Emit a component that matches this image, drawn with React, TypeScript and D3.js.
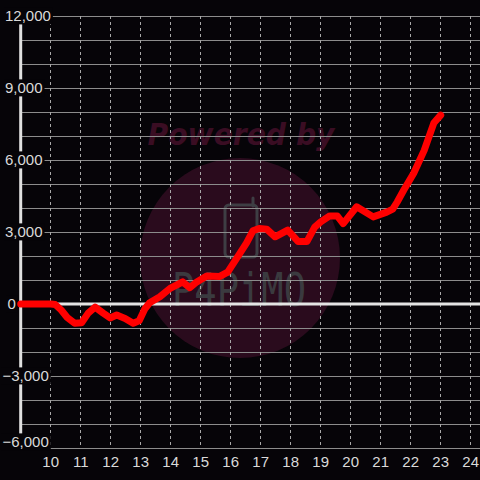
import React, { useEffect, useRef } from "react";
import * as d3 from "d3";

const xValues = [9.0, 9.5, 10.0, 10.15, 10.35, 10.55, 10.8, 11.03, 11.25, 11.48, 11.75, 11.98, 12.2, 12.48, 12.75, 12.95, 13.14, 13.3, 13.64, 13.98, 14.4, 14.64, 14.87, 15.2, 15.64, 15.9, 16.3, 16.53, 16.74, 16.95, 17.2, 17.48, 17.9, 18.25, 18.54, 18.8, 19.0, 19.3, 19.55, 19.75, 20.2, 20.75, 21.2, 21.4, 21.55, 21.77, 22.1, 22.45, 22.77, 23.0];
const yValues = [0, 0, 0, -20, -250, -560, -800, -780, -380, -130, -380, -580, -460, -600, -800, -700, -200, 50, 300, 650, 920, 680, 920, 1170, 1150, 1330, 2100, 2550, 3050, 3150, 3120, 2800, 3080, 2600, 2600, 3200, 3420, 3670, 3670, 3350, 4050, 3630, 3830, 3950, 4250, 4750, 5450, 6400, 7540, 7870];
const xTicks = [10, 11, 12, 13, 14, 15, 16, 17, 18, 19, 20, 21, 22, 23, 24];
const yTickLabels = [12000, 9000, 6000, 3000, 0, -3000, -6000];
const yGrid = [12000, 11000, 10000, 9000, 8000, 7000, 6000, 5000, 4000, 3000, 2000, 1000, -1000, -2000, -3000, -4000, -5000, -6000];

const BG = "#060408";

export default function App() {
  const ref = useRef<SVGSVGElement>(null);
  useEffect(() => {
    document.body.style.margin = "0";
    const svg = d3.select(ref.current!);
    svg.selectAll("*").remove();
    const x = d3.scaleLinear().domain([9, 24]).range([20.7, 470.7]);
    const y = d3.scaleLinear().domain([-6000, 12000]).range([448, 16]);

    svg.append("rect").attr("width", 480).attr("height", 480).attr("fill", BG);

    // watermark
    const wm = svg.append("g");
    wm.append("circle").attr("cx", 240).attr("cy", 258).attr("r", 100).attr("fill", "#2a0b1d");
    wm.append("text").attr("x", 241).attr("y", 145).attr("text-anchor", "middle")
      .attr("font-family", "DejaVu Sans").attr("font-weight", "bold").attr("font-style", "italic")
      .attr("font-size", 30).attr("textLength", 187).attr("lengthAdjust", "spacingAndGlyphs")
      .attr("fill", "#3a0d23").text("Powered by");
    wm.append("rect").attr("x", 225).attr("y", 205).attr("width", 32).attr("height", 52).attr("rx", 4)
      .attr("fill", "none").attr("stroke", "#3e3e44").attr("stroke-width", 3);
    wm.append("line").attr("x1", 253).attr("x2", 253).attr("y1", 198).attr("y2", 206)
      .attr("stroke", "#3e3e44").attr("stroke-width", 3).attr("stroke-linecap", "round");
    wm.append("text").attr("x", 172).attr("y", 306)
      .attr("font-family", "DejaVu Sans Mono").attr("font-size", 46)
      .attr("textLength", 134).attr("lengthAdjust", "spacingAndGlyphs")
      .attr("fill", "#3a3a3f").text("P4PiMO");

    // horizontal grid
    svg.append("g").selectAll("line").data(yGrid).join("line")
      .attr("x1", 21).attr("x2", 480).attr("y1", d => y(d)).attr("y2", d => y(d))
      .attr("stroke", "#8c8c8c").attr("stroke-width", 1).attr("shape-rendering", "crispEdges");
    // vertical dashed grid
    svg.append("g").selectAll("line").data(xTicks).join("line")
      .attr("x1", d => x(d)).attr("x2", d => x(d)).attr("y1", y(12000)).attr("y2", y(-6000))
      .attr("stroke", "#a8a8a8").attr("stroke-width", 1).attr("stroke-dasharray", "3,3")
      .attr("shape-rendering", "crispEdges");

    // zero line
    svg.append("line").attr("x1", 21).attr("x2", 480).attr("y1", y(0)).attr("y2", y(0))
      .attr("stroke", "#e4e4e4").attr("stroke-width", 3);
    // left axis
    svg.append("line").attr("x1", x(9)).attr("x2", x(9)).attr("y1", y(12000)).attr("y2", y(-6000))
      .attr("stroke", "#e0e0e0").attr("stroke-width", 3);

    // y labels with background (kept inside the plot vertically)
    const yl = svg.append("g");
    yTickLabels.forEach(v => {
      const g = yl.append("g");
      const bg = g.append("rect").attr("fill", BG);
      const yy = Math.min(y(v), 442);
      const t = g.append("text").attr("x", v < 0 ? 2.5 : v === 0 ? 7.5 : 5).attr("y", yy).attr("dy", "0.36em")
        .attr("font-family", "Liberation Sans, Arial, sans-serif").attr("font-size", 15)
        .attr("fill", "#dadada").text(d3.format(",")(v));
      const bb = (t.node() as SVGTextElement).getBBox();
      bg.attr("x", bb.x - 1).attr("y", bb.y).attr("width", bb.width + 3).attr("height", bb.height);
    });

    // x labels
    svg.append("g").selectAll("text").data(xTicks).join("text")
      .attr("x", d => x(d)).attr("y", 466.5).attr("text-anchor", "middle")
      .attr("font-family", "Liberation Sans, Arial, sans-serif").attr("font-size", 15)
      .attr("fill", "#dadada").text(d => String(d));

    // red line
    const pts = xValues.map((v, i) => [v, yValues[i]] as [number, number]);
    const line = d3.line<[number, number]>().x(d => x(d[0])).y(d => y(d[1]));
    svg.append("path").attr("d", line(pts)!).attr("fill", "none").attr("stroke", "#ff0000")
      .attr("stroke-width", 7).attr("stroke-linejoin", "round").attr("stroke-linecap", "round");
  }, []);
  return <svg ref={ref} width={480} height={480} style={{ display: "block" }} />;
}
